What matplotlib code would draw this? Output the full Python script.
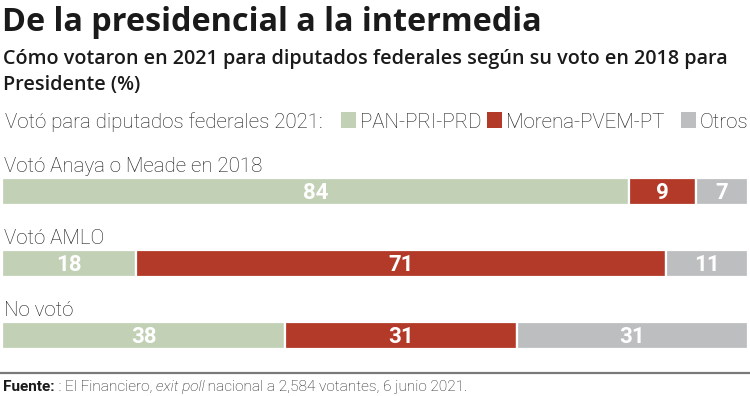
import matplotlib
matplotlib.use("Agg")
import matplotlib.pyplot as plt
from matplotlib.patches import Rectangle

W, H = 750, 396

title = "De la presidencial a la intermedia"
subtitle = ["Cómo votaron en 2021 para diputados federales según su voto en 2018 para",
            "Presidente (%)"]
legend_title = "Votó para diputados federales 2021:"
series = ["PAN-PRI-PRD", "Morena-PVEM-PT", "Otros"]
colors = ["#c2d1b5", "#b33a28", "#bdbec0"]
categories = ["Votó Anaya o Meade en 2018", "Votó AMLO", "No votó"]
pan = [84, 18, 38]
morena = [9, 71, 31]
otros = [7, 11, 31]
values = [pan, morena, otros]

HEAD = "Open Sans"
LIGHT = "Roboto"
TXT = "#1a1a1a"

fig = plt.figure(figsize=(W / 100, H / 100), dpi=100)
fig.patch.set_facecolor("white")

def fy(px):
    return 1 - px / H

def fx(px):
    return px / W

# Title and subtitle
fig.text(fx(2), fy(31), title, fontsize=23.3, fontweight="bold", family=HEAD,
         color=TXT, va="baseline", ha="left")
fig.text(fx(3), fy(64), subtitle[0], fontsize=14.2, fontweight="semibold",
         family=HEAD, color=TXT, va="baseline")
fig.text(fx(3), fy(90), subtitle[1], fontsize=14.2, fontweight="semibold",
         family=HEAD, color=TXT, va="baseline")

# Legend
fig.text(fx(5), fy(128), legend_title, fontsize=14.8, fontweight="light",
         family=LIGHT, color=TXT, va="baseline")
leg_sq_x = [341, 487, 681]
for sx, lab, col in zip(leg_sq_x, series, colors):
    fig.patches.append(Rectangle((fx(sx), fy(128)), 15 / W, 16 / H,
                                 transform=fig.transFigure, facecolor=col,
                                 edgecolor="none"))
    fig.text(fx(sx + 19), fy(128), lab, fontsize=14.8, fontweight="light",
             family=LIGHT, color=TXT, va="baseline")

# Bars
ax = fig.add_axes([fx(2), fy(360), 746 / W, 210 / H])
ypos = [0, 1, 2]
unit = 71.75
ax.set_ylim(2 + (360 - 335.5) / unit, 0 - (191.5 - 150) / unit)
ax.set_xlim(0, 100)
ax.axis("off")
bh = 27.5 / unit
left = [0, 0, 0]
for vals, col in zip(values, colors):
    ax.barh(ypos, vals, left=left, height=bh, color=col, edgecolor="white",
            linewidth=1.6)
    for y, v, l in zip(ypos, vals, left):
        ax.text(l + v / 2, y + 0.02, str(v), ha="center", va="center",
                color="white", fontsize=16, fontweight="bold", family=LIGHT)
    left = [a + b for a, b in zip(left, vals)]

for y, cat in zip(ypos, categories):
    ax.text(0.3, y - 0.27, cat, ha="left", va="baseline", fontsize=14.8,
            fontweight="light", family=LIGHT, color=TXT)

# Separator line
fig.add_artist(plt.Line2D([0, 1], [fy(373), fy(373)], transform=fig.transFigure,
                          color="#7a7a7a", linewidth=1.6))

# Footer
fig.canvas.draw()
r = fig.canvas.get_renderer()
parts = [("Fuente:", "bold", "normal"), (" : El Financiero, ", "light", "normal"),
         ("exit poll", "light", "italic"),
         (" nacional a 2,584 votantes, 6 junio 2021.", "light", "normal")]
x = fx(3)
for txt, wt, st in parts:
    t = fig.text(x, fy(391), txt, fontsize=11.1, fontweight=wt, fontstyle=st,
                 family=LIGHT, color=TXT, va="baseline")
    bb = t.get_window_extent(renderer=r)
    x = bb.x1 / W

fig.savefig("out.png", dpi=100, facecolor="white")
